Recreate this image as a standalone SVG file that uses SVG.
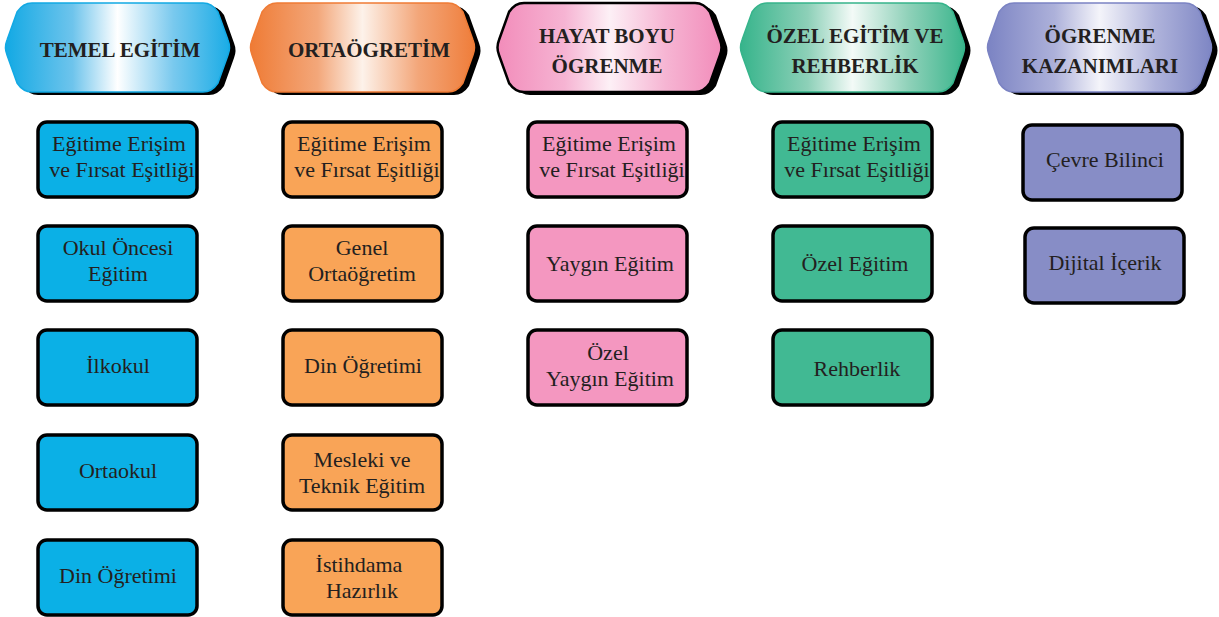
<svg xmlns="http://www.w3.org/2000/svg" xmlns:xlink="http://www.w3.org/1999/xlink" width="1219" height="617" viewBox="0 0 1219 617">
<defs>
<style>
.ht{font-family:"Liberation Serif","Times New Roman",serif;font-weight:bold;font-size:21px;fill:#231f20;text-anchor:middle}
.bt{font-family:"Liberation Serif","Times New Roman",serif;font-size:22px;fill:#231f20;text-anchor:middle}
.box{stroke:#000;stroke-width:3.5}
.sh{fill:#000}
.blue{fill:#0bb0e6}.orange{fill:#f9a457}.pink{fill:#f497c0}.green{fill:#41b993}.purple{fill:#878dc6}
</style>
<path id="hex" d="M27,0 L198,0 Q207,0 213,9 L223,37 Q226,44.5 223,52 L213,80 Q207,89 198,89 L27,89 Q18,89 12,80 L2,52 Q-1,44.5 2,37 L12,9 Q18,0 27,0 Z"/>
<rect id="bx" width="159" height="75" rx="9"/>
<linearGradient id="gB" x1="0" x2="1" y1="0" y2="0"><stop offset="0" stop-color="#12a9e4"/><stop offset="0.3" stop-color="#6ec4ec"/><stop offset="0.5" stop-color="#ffffff"/><stop offset="0.75" stop-color="#79c9ee"/><stop offset="1" stop-color="#1aace6"/></linearGradient>
<linearGradient id="gO" x1="0" x2="1" y1="0" y2="0"><stop offset="0" stop-color="#ef7b35"/><stop offset="0.3" stop-color="#f3a77a"/><stop offset="0.5" stop-color="#fdf2ea"/><stop offset="0.75" stop-color="#f3a679"/><stop offset="1" stop-color="#ef7d3a"/></linearGradient>
<linearGradient id="gP" x1="0" x2="1" y1="0" y2="0"><stop offset="0" stop-color="#f28cba"/><stop offset="0.3" stop-color="#f6b4d3"/><stop offset="0.5" stop-color="#fdf0f6"/><stop offset="0.75" stop-color="#f6b5d3"/><stop offset="1" stop-color="#f28cba"/></linearGradient>
<linearGradient id="gG" x1="0" x2="1" y1="0" y2="0"><stop offset="0" stop-color="#36b48b"/><stop offset="0.3" stop-color="#8dd0b8"/><stop offset="0.5" stop-color="#f3faf7"/><stop offset="0.75" stop-color="#8fd1b9"/><stop offset="1" stop-color="#3ab58c"/></linearGradient>
<linearGradient id="gV" x1="0" x2="1" y1="0" y2="0"><stop offset="0" stop-color="#7b83c3"/><stop offset="0.3" stop-color="#adb1da"/><stop offset="0.5" stop-color="#f4f4fa"/><stop offset="0.75" stop-color="#afb3db"/><stop offset="1" stop-color="#7e86c4"/></linearGradient>
</defs>

<g id="h-temel" transform="translate(5,3)">
<use xlink:href="#hex" class="sh" transform="translate(6,3)"/>
<use xlink:href="#hex" fill="url(#gB)" stroke="#12a9e4" stroke-width="1.5"/>
<text class="ht" x="115" y="54">TEMEL EGİTİM</text>
</g>
<g id="h-orta" transform="translate(250,3)">
<use xlink:href="#hex" class="sh" transform="translate(6,3)"/>
<use xlink:href="#hex" fill="url(#gO)" stroke="#ef7b35" stroke-width="1.5"/>
<text class="ht" x="119" y="54">ORTAÖGRETİM</text>
</g>
<g id="h-hayat" transform="translate(497,3)">
<use xlink:href="#hex" class="sh" transform="translate(6,3)"/>
<use xlink:href="#hex" fill="url(#gP)" stroke="#000" stroke-width="2.5"/>
<text class="ht" x="110" y="40">HAYAT BOYU</text>
<text class="ht" x="110" y="70">ÖGRENME</text>
</g>
<g id="h-ozel" transform="translate(740,3)">
<use xlink:href="#hex" class="sh" transform="translate(6,3)"/>
<use xlink:href="#hex" fill="url(#gG)" stroke="#36b48b" stroke-width="1.5"/>
<text class="ht" x="115" y="40">ÖZEL EGİTİM VE</text>
<text class="ht" x="115" y="70">REHBERLİK</text>
</g>
<g id="h-kazanim" transform="translate(987,3)">
<use xlink:href="#hex" class="sh" transform="translate(6,3)"/>
<use xlink:href="#hex" fill="url(#gV)" stroke="#7b83c3" stroke-width="1.5"/>
<text class="ht" x="113" y="40">ÖGRENME</text>
<text class="ht" x="113" y="70">KAZANIMLARI</text>
</g>

<!-- Column 1 -->
<g id="c1-1" transform="translate(38,122)"><use xlink:href="#bx" class="box blue"/><text class="bt" x="81" y="29">Eğitime Erişim</text><text class="bt" x="84" y="55">ve Fırsat Eşitliği</text></g>
<g id="c1-2" transform="translate(38,226)"><use xlink:href="#bx" class="box blue"/><text class="bt" x="80" y="29">Okul Öncesi</text><text class="bt" x="80" y="55">Eğitim</text></g>
<g id="c1-3" transform="translate(38,330)"><use xlink:href="#bx" class="box blue"/><text class="bt" x="80" y="43">İlkokul</text></g>
<g id="c1-4" transform="translate(38,435)"><use xlink:href="#bx" class="box blue"/><text class="bt" x="80" y="43">Ortaokul</text></g>
<g id="c1-5" transform="translate(38,540)"><use xlink:href="#bx" class="box blue"/><text class="bt" x="80" y="43">Din Öğretimi</text></g>

<!-- Column 2 -->
<g id="c2-1" transform="translate(283,122)"><use xlink:href="#bx" class="box orange"/><text class="bt" x="81" y="29">Eğitime Erişim</text><text class="bt" x="84" y="55">ve Fırsat Eşitliği</text></g>
<g id="c2-2" transform="translate(283,226)"><use xlink:href="#bx" class="box orange"/><text class="bt" x="79" y="29">Genel</text><text class="bt" x="79" y="55">Ortaöğretim</text></g>
<g id="c2-3" transform="translate(283,330)"><use xlink:href="#bx" class="box orange"/><text class="bt" x="80" y="43">Din Öğretimi</text></g>
<g id="c2-4" transform="translate(283,435)"><use xlink:href="#bx" class="box orange"/><text class="bt" x="79" y="32">Mesleki ve</text><text class="bt" x="79" y="58">Teknik Eğitim</text></g>
<g id="c2-5" transform="translate(283,540)"><use xlink:href="#bx" class="box orange"/><text class="bt" x="76" y="32">İstihdama</text><text class="bt" x="79" y="58">Hazırlık</text></g>

<!-- Column 3 -->
<g id="c3-1" transform="translate(528,122)"><use xlink:href="#bx" class="box pink"/><text class="bt" x="81" y="29">Eğitime Erişim</text><text class="bt" x="84" y="55">ve Fırsat Eşitliği</text></g>
<g id="c3-2" transform="translate(528,226)"><use xlink:href="#bx" class="box pink"/><text class="bt" x="82" y="45">Yaygın Eğitim</text></g>
<g id="c3-3" transform="translate(528,330)"><use xlink:href="#bx" class="box pink"/><text class="bt" x="80" y="30">Özel</text><text class="bt" x="82" y="56">Yaygın Eğitim</text></g>

<!-- Column 4 -->
<g id="c4-1" transform="translate(773,122)"><use xlink:href="#bx" class="box green"/><text class="bt" x="81" y="29">Eğitime Erişim</text><text class="bt" x="84" y="55">ve Fırsat Eşitliği</text></g>
<g id="c4-2" transform="translate(773,226)"><use xlink:href="#bx" class="box green"/><text class="bt" x="82" y="45">Özel Eğitim</text></g>
<g id="c4-3" transform="translate(773,330)"><use xlink:href="#bx" class="box green"/><text class="bt" x="84" y="46">Rehberlik</text></g>

<!-- Column 5 -->
<g id="c5-1" transform="translate(1023,125)"><use xlink:href="#bx" class="box purple"/><text class="bt" x="82" y="42">Çevre Bilinci</text></g>
<g id="c5-2" transform="translate(1025,228)"><use xlink:href="#bx" class="box purple"/><text class="bt" x="80" y="42">Dijital İçerik</text></g>

<g id="connectors"></g>
</svg>
